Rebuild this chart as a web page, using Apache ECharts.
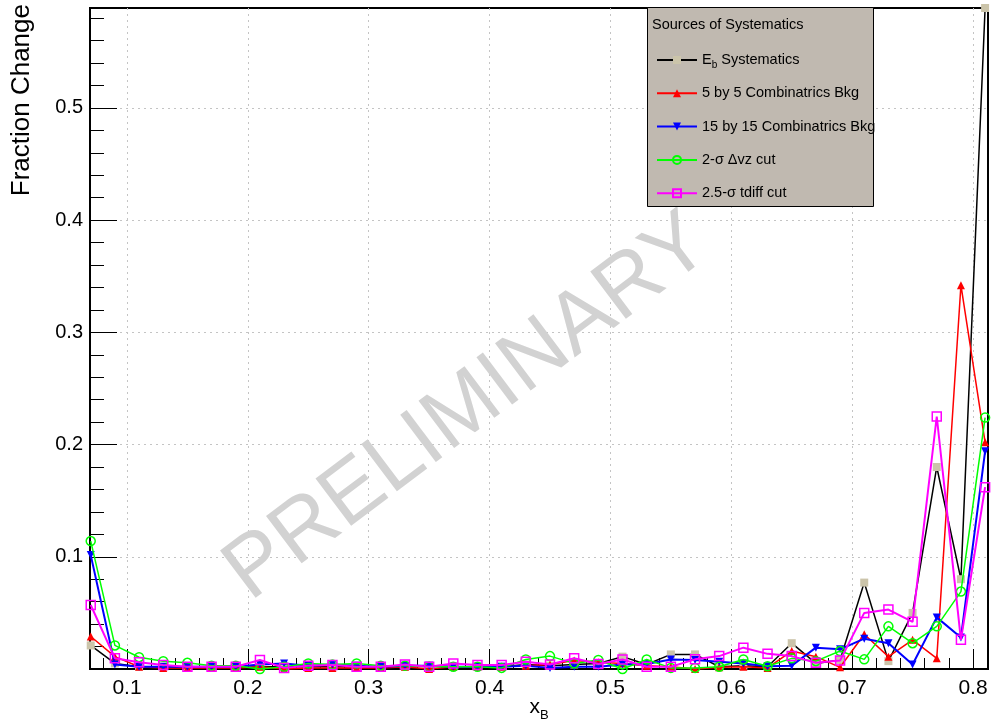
<!DOCTYPE html>
<html><head><meta charset="utf-8">
<script src="https://cdn.jsdelivr.net/npm/echarts@6/dist/echarts.min.js"></script>
<style>html,body{margin:0;padding:0;background:#fff}#c{width:996px;height:727px}</style>
</head><body><div id="c"></div><script>
// ---- data ----
const xB = [0.07,0.09,0.11,0.13,0.15,0.17,0.19,0.21,0.23,0.25,0.27,0.29,0.31,0.33,0.35,0.37,0.39,0.41,0.43,0.45,0.47,0.49,0.51,0.53,0.55,0.57,0.59,0.61,0.63,0.65,0.67,0.69,0.71,0.73,0.75,0.77,0.79,0.81];
const seriesNames = ['E_b Systematics','5 by 5 Combinatrics Bkg','15 by 15 Combinatrics Bkg','2-\u03c3 \u0394vz cut','2.5-\u03c3 tdiff cut'];
const ebSys  = [0.021,0.005,0.002,0.002,0.001,0.001,0.001,0.002,0.002,0.002,0.002,0.002,0.001,0.002,0.003,0.002,0.002,0.002,0.004,0.003,0.004,0.005,0.011,0.004,0.013,0.013,0.002,0.003,0.002,0.023,0.005,0.008,0.077,0.007,0.050,0.180,0.080,0.589];
const comb5  = [0.029,0.011,0.002,0.001,0.001,0.001,0.001,0.002,0.000,0.001,0.001,0.001,0.001,0.002,0.000,0.002,0.002,0.002,0.003,0.004,0.0075,0.006,0.005,0.003,0.002,0.000,0.0015,0.002,0.001,0.016,0.011,0.0015,0.031,0.011,0.026,0.0095,0.342,0.202];
const comb15 = [0.1015,0.004,0.002,0.002,0.002,0.002,0.002,0.004,0.005,0.003,0.004,0.003,0.002,0.003,0.003,0.002,0.002,0.002,0.003,0.001,0.002,0.002,0.004,0.0045,0.0085,0.008,0.0065,0.005,0.0025,0.003,0.019,0.0175,0.027,0.023,0.004,0.046,0.028,0.194];
const dvzCut = [0.114,0.021,0.0105,0.007,0.0055,0.003,0.003,0.000,0.002,0.005,0.004,0.005,0.003,0.003,0.002,0.002,0.002,0.001,0.0085,0.0115,0.005,0.008,0.000,0.0085,0.001,0.001,0.002,0.0085,0.0025,0.0095,0.007,0.016,0.0086,0.038,0.023,0.038,0.069,0.224];
const tdiffCut = [0.057,0.0095,0.006,0.0035,0.002,0.002,0.002,0.008,0.001,0.003,0.0035,0.002,0.002,0.004,0.002,0.005,0.0035,0.0035,0.0065,0.004,0.0095,0.0045,0.0085,0.002,0.002,0.0086,0.0115,0.019,0.0135,0.0115,0.0055,0.0075,0.050,0.053,0.042,0.225,0.026,0.162];
const xMajorTicks = [0.1,0.2,0.3,0.4,0.5,0.6,0.7,0.8];
const xMinorTicks = [0.08,0.12,0.14,0.16,0.18,0.22,0.24,0.26,0.28,0.32,0.34,0.36,0.38,0.42,0.44,0.46,0.48,0.52,0.54,0.56,0.58,0.62,0.64,0.66,0.68,0.72,0.74,0.76,0.78];
const yMajorTicks = [0.1,0.2,0.3,0.4,0.5];
const yMinorTicks = [0.02,0.04,0.06,0.08,0.12,0.14,0.16,0.18,0.22,0.24,0.26,0.28,0.32,0.34,0.36,0.38,0.42,0.44,0.46,0.48,0.52,0.54,0.56,0.58];
const X_RANGE = [0.0694, 0.8124];
const Y_RANGE = [0, 0.589];

// ---- chart ----
const FONT = '"Liberation Sans", Arial, Helvetica, sans-serif';
const chart = echarts.init(document.getElementById('c'), null, {renderer:'canvas'});
const pair = arr => arr.map((v,i)=>[xB[i], v]);
const gridLine = {show:true, lineStyle:{color:'#c4c4c4', width:1, type:[2,4]}};

function majorX(){return {type:'value', min:X_RANGE[0], max:X_RANGE[1], splitNumber:7, position:'bottom',
  axisLine:{show:false},
  axisTick:{show:true, inside:true, length:20, customValues:xMajorTicks, lineStyle:{color:'#000', width:1}},
  axisLabel:{show:true, customValues:xMajorTicks, formatter:v=>(+v).toFixed(1), color:'#000', fontSize:21, fontFamily:FONT, margin:9},
  splitLine:gridLine,
  name:'{x|x}{s|B}', nameLocation:'middle', nameGap:23, nameMoveOverlap:false,
  nameTextStyle:{color:'#000', rich:{x:{fontSize:21, fontFamily:FONT, lineHeight:30, color:'#000'}, s:{fontSize:13, fontFamily:FONT, lineHeight:12, verticalAlign:'bottom', color:'#000'}}}
};}
function minorX(){return {type:'value', min:X_RANGE[0], max:X_RANGE[1], position:'bottom',
  axisLine:{show:false}, axisLabel:{show:false}, splitLine:{show:false},
  axisTick:{show:true, inside:true, length:11, customValues:xMinorTicks, lineStyle:{color:'#000', width:1}}};}
function majorY(){return {type:'value', min:Y_RANGE[0], max:Y_RANGE[1], splitNumber:6, position:'left',
  axisLine:{show:false},
  axisTick:{show:true, inside:true, length:27, customValues:yMajorTicks, lineStyle:{color:'#000', width:1}},
  axisLabel:{show:true, customValues:yMajorTicks, formatter:v=>(+v).toFixed(1), color:'#000', fontSize:20, fontFamily:FONT, margin:7},
  splitLine:gridLine};}
function minorY(){return {type:'value', min:Y_RANGE[0], max:Y_RANGE[1], position:'left',
  axisLine:{show:false}, axisLabel:{show:false}, splitLine:{show:false},
  axisTick:{show:true, inside:true, length:14, customValues:yMinorTicks, lineStyle:{color:'#000', width:1}}};}

const styles = [
  {data:ebSys, symbol:'rect', symbolSize:8, item:{color:'#cbc4aa'}, line:{color:'#000000', width:1.5}},
  {data:comb5, symbol:'triangle', symbolSize:8, item:{color:'#ff0000'}, line:{color:'#ff0000', width:1.5}},
  {data:comb15, symbol:'triangle', symbolSize:8, rotate:180, item:{color:'#0000ff'}, line:{color:'#0000ff', width:2}},
  {data:dvzCut, symbol:'circle', symbolSize:9, item:{color:'rgba(255,255,255,0)', borderColor:'#00ff00', borderWidth:1.5}, line:{color:'#00ff00', width:1.5}},
  {data:tdiffCut, symbol:'rect', symbolSize:9, item:{color:'rgba(255,255,255,0)', borderColor:'#ff00ff', borderWidth:1.5}, line:{color:'#ff00ff', width:2}}
];

const series = styles.map((s,i)=>({
  name:seriesNames[i], type:'line', xAxisIndex:0, yAxisIndex:0,
  data:pair(s.data), symbol:s.symbol, symbolSize:s.symbolSize, symbolRotate:s.rotate||0,
  showAllSymbol:true, clip:false, z:3+i,
  itemStyle:s.item, lineStyle:s.line, emphasis:{disabled:true}
}));

const option = {
  animation:false,
  backgroundColor:'#ffffff',
  grid:{left:90, top:8, right:8, bottom:58, outerBoundsMode:'none', containLabel:false, show:true, borderColor:'#000', borderWidth:2, backgroundColor:'rgba(0,0,0,0)'},
  xAxis:[majorX(), minorX()],
  yAxis:[majorY(), minorY()],
  title:{text:'Sources of Systematics', left:652, top:17, padding:0, z:12,
    textStyle:{fontSize:14.5, fontWeight:'normal', fontFamily:FONT, color:'#000'}},
  legend:{orient:'vertical', left:656, top:50, padding:0, itemWidth:40, itemHeight:10, itemGap:13.3,
    selectedMode:false, z:12, data:seriesNames,
    formatter:n=> n.indexOf('E_b')===0 ? '{t|E}{s|b}{t| Systematics}' : '{t|'+n+'}{s| }',
    textStyle:{fontSize:14.5, fontFamily:FONT, color:'#000', lineHeight:20, rich:{
      t:{fontSize:14.5, fontFamily:FONT, lineHeight:20, color:'#000'},
      s:{fontSize:10, fontFamily:FONT, lineHeight:10, verticalAlign:'bottom', color:'#000'}}}},
  graphic:[
    {type:'rect', left:647, top:7, z:10, shape:{width:226, height:199}, style:{fill:'#c0b9b0', stroke:'#000', lineWidth:1}},
    {type:'text', x:468, y:408, rotation:37*Math.PI/180, z:1, silent:true,
      style:{text:'PRELIMINARY', fontSize:86, fontFamily:FONT, fill:'#d2d2d2', align:'center', verticalAlign:'middle'}},
    {type:'text', x:22, y:4, rotation:Math.PI/2, z:5,
      style:{text:'Fraction Change', fontSize:26, fontFamily:FONT, fill:'#000', align:'right', verticalAlign:'middle'}}
  ],
  series:series
};
chart.setOption(option);
</script></body></html>
